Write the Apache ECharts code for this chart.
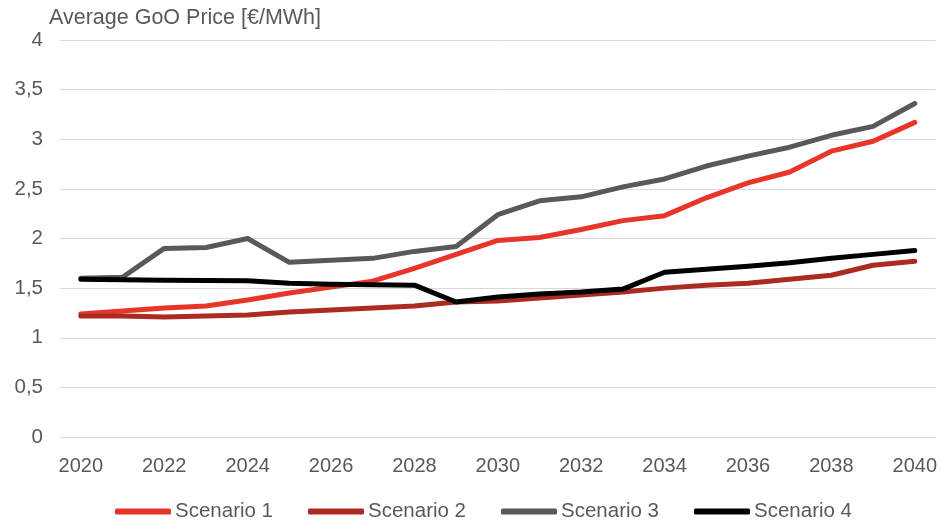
<!DOCTYPE html>
<html>
<head>
<meta charset="utf-8">
<script src="https://cdn.jsdelivr.net/npm/echarts@6/dist/echarts.min.js"></script>
<style>
  html, body { margin: 0; padding: 0; background: #fff; }
  #chart { width: 940px; height: 524px; }
</style>
</head>
<body>
<div id="chart"></div>
<script>
// Years on the horizontal axis
const years = ['2020','2021','2022','2023','2024','2025','2026','2027','2028','2029','2030',
               '2031','2032','2033','2034','2035','2036','2037','2038','2039','2040'];

// Average GoO price per scenario [€/MWh]
const scenario1 = [1.24, 1.27, 1.30, 1.32, 1.38, 1.45, 1.51, 1.57, 1.70, 1.84, 1.98,
                   2.01, 2.09, 2.18, 2.23, 2.41, 2.56, 2.67, 2.88, 2.98, 3.17];
const scenario2 = [1.22, 1.22, 1.21, 1.22, 1.23, 1.26, 1.28, 1.30, 1.32, 1.36, 1.37,
                   1.40, 1.43, 1.46, 1.50, 1.53, 1.55, 1.59, 1.63, 1.73, 1.77];
const scenario3 = [1.60, 1.61, 1.90, 1.91, 2.00, 1.76, 1.78, 1.80, 1.87, 1.92, 2.24,
                   2.38, 2.42, 2.52, 2.60, 2.73, 2.83, 2.92, 3.04, 3.13, 3.36];
const scenario4 = [1.59, 1.585, 1.58, 1.578, 1.575, 1.55, 1.54, 1.535, 1.53, 1.36, 1.41,
                   1.44, 1.46, 1.49, 1.66, 1.69, 1.72, 1.755, 1.80, 1.84, 1.88];

const seriesNames = ['Scenario 1', 'Scenario 2', 'Scenario 3', 'Scenario 4'];
const seriesData = [scenario1, scenario2, scenario3, scenario4];
const seriesColors = ['#E8352A', '#AB2A21', '#595959', '#000000'];

const textColor = '#595959';
const fontFamily = '"Liberation Sans", Arial, sans-serif';

const chart = echarts.init(document.getElementById('chart'), null, { renderer: 'canvas' });

chart.setOption({
  animation: false,
  textStyle: { fontFamily: fontFamily, color: textColor },
  title: {
    text: 'Average GoO Price [€/MWh]',
    left: 44,
    top: 2,
    textStyle: { fontFamily: fontFamily, fontSize: 21.5, fontWeight: 'normal', color: textColor }
  },
  grid: { left: 60, right: 4, top: 40, bottom: 87, containLabel: false },
  legend: {
    top: 496,
    left: 110,
    icon: 'roundRect',
    itemWidth: 56,
    itemHeight: 6,
    itemGap: 35,
    textStyle: { fontFamily: fontFamily, fontSize: 20.5, color: textColor, padding: [0, 0, 0, -1] },
    data: seriesNames
  },
  xAxis: {
    type: 'category',
    data: years,
    boundaryGap: true,
    axisLine: { show: false },
    axisTick: { show: false },
    axisLabel: {
      interval: 1,
      margin: 19,
      fontSize: 20,
      color: textColor,
      fontFamily: fontFamily
    }
  },
  yAxis: {
    type: 'value',
    min: 0,
    max: 4,
    interval: 0.5,
    axisLine: { show: false },
    axisTick: { show: false },
    splitLine: { lineStyle: { color: '#D9D9D9', width: 1 } },
    axisLabel: {
      margin: 17,
      fontSize: 20.5,
      color: textColor,
      fontFamily: fontFamily,
      formatter: v => String(v).replace('.', ',')
    }
  },
  series: seriesNames.map((name, i) => ({
    name: name,
    type: 'line',
    data: seriesData[i],
    symbol: 'none',
    color: seriesColors[i],
    lineStyle: { width: 5, color: seriesColors[i], cap: 'round', join: 'round' }
  }))
});
</script>
</body>
</html>
